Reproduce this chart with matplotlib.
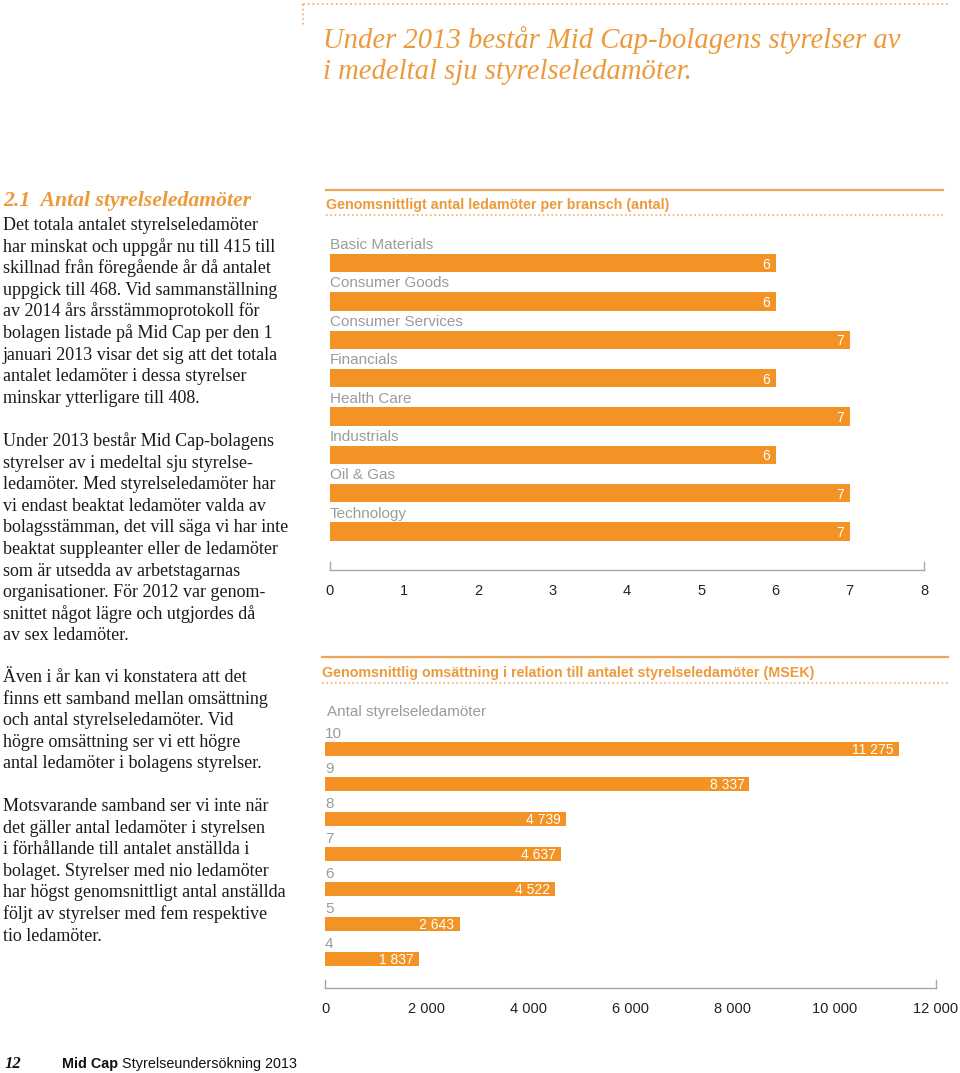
import matplotlib
matplotlib.use('Agg')
import matplotlib.pyplot as plt
from matplotlib.lines import Line2D

W, H = 960, 1073
ORANGE = '#F39325'
TITLE_ORANGE = '#EC9A3C'
GRAY = '#9B9B9B'
SERIF = 'Liberation Serif'
SANS = 'Liberation Sans'

# --- data ---
branscher = ['Basic Materials', 'Consumer Goods', 'Consumer Services', 'Financials',
             'Health Care', 'Industrials', 'Oil & Gas', 'Technology']
ledamoter = [6, 6, 7, 6, 7, 6, 7, 7]
antal_ticks = [0, 1, 2, 3, 4, 5, 6, 7, 8]

antal_styrelse = ['10', '9', '8', '7', '6', '5', '4']
omsattning = [11275, 8337, 4739, 4637, 4522, 2643, 1837]
msek_ticks = [0, 2000, 4000, 6000, 8000, 10000, 12000]

rubrik = ['Under 2013 består Mid Cap-bolagens styrelser av',
          'i medeltal sju styrelseledamöter.']
avsnitt = '2.1  Antal styrelseledamöter'
stycken = [
    ['Det totala antalet styrelseledamöter',
     'har minskat och uppgår nu till 415 till',
     'skillnad från föregående år då antalet',
     'uppgick till 468. Vid sammanställning',
     'av 2014 års årsstämmoprotokoll för',
     'bolagen listade på Mid Cap per den 1',
     'januari 2013 visar det sig att det totala',
     'antalet ledamöter i dessa styrelser',
     'minskar ytterligare till 408.'],
    ['Under 2013 består Mid Cap-bolagens',
     'styrelser av i medeltal sju styrelse-',
     'ledamöter. Med styrelseledamöter har',
     'vi endast beaktat ledamöter valda av',
     'bolagsstämman, det vill säga vi har inte',
     'beaktat suppleanter eller de ledamöter',
     'som är utsedda av arbetstagarnas',
     'organisationer. För 2012 var genom-',
     'snittet något lägre och utgjordes då',
     'av sex ledamöter.'],
    ['Även i år kan vi konstatera att det',
     'finns ett samband mellan omsättning',
     'och antal styrelseledamöter. Vid',
     'högre omsättning ser vi ett högre',
     'antal ledamöter i bolagens styrelser.'],
    ['Motsvarande samband ser vi inte när',
     'det gäller antal ledamöter i styrelsen',
     'i förhållande till antalet anställda i',
     'bolaget. Styrelser med nio ledamöter',
     'har högst genomsnittligt antal anställda',
     'följt av styrelser med fem respektive',
     'tio ledamöter.']]
stycke_start = [225, 441, 677, 806]


def fx(x):
    return x / W


def fy(y):
    return 1 - y / H


def hline(fig, x0, x1, y, color, lw, ls='-'):
    fig.add_artist(Line2D([fx(x0), fx(x1)], [fy(y), fy(y)], transform=fig.transFigure,
                          color=color, lw=lw, linestyle=ls))


def space_fmt(v):
    return f'{v:,}'.replace(',', ' ')


fig = plt.figure(figsize=(9.6, 10.73), dpi=100)

# page header
dots = (0, (1, 1.6))
hline(fig, 303, 948, 4, '#EDB77A', 1.3, dots)
fig.add_artist(Line2D([fx(303), fx(303)], [fy(4), fy(26)], transform=fig.transFigure,
                      color='#EDB77A', lw=1.3, linestyle=dots))
for i, line in enumerate(rubrik):
    fig.text(fx(323), fy(48 + 31 * i), line, family=SERIF, style='italic', size=20.6,
             color=TITLE_ORANGE, va='baseline')

# left column text
fig.text(fx(3), fy(206), avsnitt, family=SERIF, style='italic', weight='bold', size=15.7,
         color=TITLE_ORANGE, va='baseline')
for start, lines in zip(stycke_start, stycken):
    for i, line in enumerate(lines):
        fig.text(fx(3), fy(start + 5 + 21.6 * i), line, family=SERIF, size=13,
                 color='#1a1a1a', va='baseline')

# footer
fig.text(fx(5), fy(1068), '12', family=SERIF, style='italic', weight='bold', size=12,
         color='#111', va='baseline')
t = fig.text(fx(62), fy(1068), 'Mid Cap', family=SANS, weight='bold', size=10.4,
             color='#111', va='baseline')
fig.canvas.draw()
bb = t.get_window_extent()
fig.text(bb.x1 / W + fx(4), fy(1068), 'Styrelseundersökning 2013', family=SANS, size=10.4,
         color='#111', va='baseline')


def chart_frame(y_line, y_title, y_dots, x0, x1, title):
    hline(fig, x0, x1, y_line, '#F0A65A', 1.6)
    fig.text(fx(x0), fy(y_title), title, family=SANS, weight='bold', size=10.3,
             color=TITLE_ORANGE, va='center')
    hline(fig, x0, x1, y_dots, '#F0B070', 1.2, dots)


def style_axis(ax, tick_px, axes_h_px):
    for s in ['top', 'right', 'left']:
        ax.spines[s].set_visible(False)
    ax.spines['bottom'].set_color('#A8A8A8')
    ax.spines['bottom'].set_linewidth(1)
    xmin, xmax = ax.get_xlim()
    for xe in (xmin, xmax):
        ax.plot([xe, xe], [0, tick_px / axes_h_px], transform=ax.get_xaxis_transform(),
                color='#A8A8A8', lw=1, clip_on=False)
    ax.set_yticks([])
    ax.tick_params(axis='x', length=0, pad=10, labelsize=10.5, labelcolor='#222')
    for lab in ax.get_xticklabels():
        lab.set_family(SANS)


# chart 1: ledamöter per bransch
chart_frame(190, 205, 215, 326, 943, 'Genomsnittligt antal ledamöter per bransch (antal)')
ax1 = fig.add_axes([fx(330), fy(570), (924 - 330) / W, (570 - 232) / H])
ypos = range(len(branscher))
ax1.barh(ypos, ledamoter, height=0.48, color=ORANGE)
ax1.set_xlim(0, 8)
ax1.set_ylim(8.0, -0.81)
ax1.set_xticks(antal_ticks)
for i, (name, v) in enumerate(zip(branscher, ledamoter)):
    ax1.text(0, i - 0.47, name, va='center', ha='left', color=GRAY, size=11, family=SANS)
    ax1.text(v - 0.08, i + 0.04, str(v), va='center', ha='right', color='white', size=10,
             family=SANS)
style_axis(ax1, 8, 338)

# chart 2: omsättning per antal ledamöter
chart_frame(657, 673, 683, 322, 948,
            'Genomsnittlig omsättning i relation till antalet styrelseledamöter (MSEK)')
fig.text(fx(327), fy(712), 'Antal styrelseledamöter', family=SANS, size=11, color=GRAY,
         va='center')
ax2 = fig.add_axes([fx(325), fy(988), (936 - 325) / W, (988 - 722) / H])
ypos2 = range(len(antal_styrelse))
ax2.barh(ypos2, omsattning, height=0.41, color=ORANGE)
ax2.set_xlim(0, 12000)
ax2.set_ylim(6.83, -0.77)
ax2.set_xticks(msek_ticks)
ax2.set_xticklabels([space_fmt(v) for v in msek_ticks])
for i, (lab, v) in enumerate(zip(antal_styrelse, omsattning)):
    ax2.text(0, i - 0.42, lab, va='center', ha='left', color=GRAY, size=11, family=SANS)
    ax2.text(v - 100, i + 0.03, space_fmt(v), va='center', ha='right', color='white',
             size=10, family=SANS)
style_axis(ax2, 8, 266)

fig.savefig('out.png', dpi=100)
